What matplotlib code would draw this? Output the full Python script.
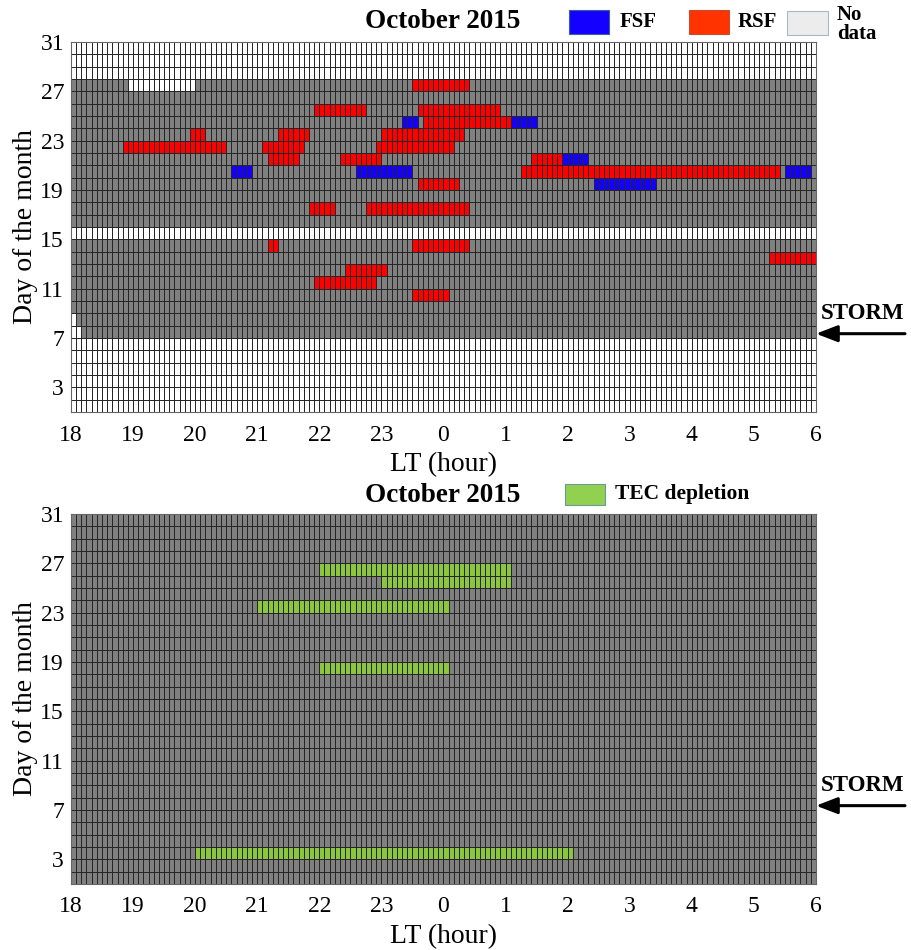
import matplotlib
matplotlib.use("Agg")
import matplotlib.pyplot as plt
import matplotlib.transforms as mtransforms
import numpy as np
from matplotlib.colors import ListedColormap, BoundaryNorm
from matplotlib.patches import Rectangle

plt.rcParams['font.family'] = ['Liberation Serif', 'DejaVu Serif']

# days of october 2015, rows are day d .. d+1
days = np.arange(1, 31)
hour_ticks = np.arange(0, 13)
hour_labels = ['18', '19', '20', '21', '22', '23', '0', '1', '2', '3', '4', '5', '6']

# ionosonde: whole nights without data
nodata_days = [1, 2, 3, 4, 5, 6, 15, 28, 29, 30]
# partial no data (day, start LT, end LT)
nodata_parts = [(27, '18:55', '20:00'), (8, '18:00', '18:05'), (7, '18:00', '18:10')]

# frequency spread F
fsf = [(24, '23:20', '23:35'), (24, '01:05', '01:30'),
       (21, '01:55', '02:20'),
       (20, '20:35', '20:55'), (20, '22:35', '23:30'), (20, '05:30', '05:55'),
       (19, '02:25', '03:25')]

# range spread F
rsf = [(27, '23:30', '00:25'),
       (25, '21:55', '22:45'), (25, '23:35', '00:55'),
       (24, '23:40', '01:05'),
       (23, '19:55', '20:10'), (23, '21:20', '21:50'), (23, '23:00', '00:20'),
       (22, '18:50', '20:30'), (22, '21:05', '21:45'), (22, '22:55', '00:10'),
       (21, '21:10', '21:40'), (21, '22:20', '23:00'), (21, '01:25', '01:55'),
       (20, '01:15', '05:25'),
       (19, '23:35', '00:15'),
       (17, '21:50', '22:15'), (17, '22:45', '00:25'),
       (14, '21:10', '21:20'), (14, '23:30', '00:25'),
       (13, '05:15', '06:00'),
       (12, '22:25', '23:05'),
       (11, '21:55', '22:55'),
       (10, '23:30', '00:05')]

# GNSS TEC depletions
tec = [(26, '22:00', '01:05'), (25, '23:00', '01:05'), (23, '21:00', '00:05'),
       (18, '22:00', '00:05'), (3, '20:00', '02:05')]

storm_day = 7.35


def col(t):
    h, m = t.split(':')
    mins = (int(h) - 18) % 24 * 60 + int(m)
    return mins // 5


def fill(grid, events, val):
    for d, t0, t1 in events:
        c1 = col(t1) if t1 != '06:00' else 144
        grid[d - 1, col(t0):c1] = val


# 0 gray, 1 blue, 2 red, 3 white, 4 green
grid1 = np.zeros((30, 144))
for d in nodata_days:
    grid1[d - 1, :] = 3
fill(grid1, nodata_parts, 3)
fill(grid1, rsf, 2)
fill(grid1, fsf, 1)

grid2 = np.zeros((30, 144))
fill(grid2, tec, 4)

cmap = ListedColormap(['#808080', '#1400ff', '#ff0000', '#ffffff', '#8cc63f'])
norm = BoundaryNorm([-0.5, 0.5, 1.5, 2.5, 3.5, 4.5], cmap.N)

xe = np.linspace(0, 12, 145)
ye = np.arange(1, 32)

fig = plt.figure(figsize=(9.11, 9.5), dpi=100)
ax1 = fig.add_axes([0.0779, 0.5663, 0.8178, 0.3895])
ax2 = fig.add_axes([0.0779, 0.0695, 0.8178, 0.3895])

for ax, g in [(ax1, grid1), (ax2, grid2)]:
    ax.pcolormesh(xe, ye, g, cmap=cmap, norm=norm, edgecolors='#262626', linewidth=0.45)
    ax.set_xlim(0, 12)
    ax.set_ylim(1, 31)
    ax.set_xticks(hour_ticks)
    ax.set_xticklabels(hour_labels)
    ax.set_yticks([3, 7, 11, 15, 19, 23, 27, 31])
    ax.tick_params(length=0, labelsize=17)
    ax.tick_params(axis='x', pad=9)
    ax.tick_params(axis='y', pad=5)
    ax.set_xlabel('LT (hour)', fontsize=20, labelpad=5)
    ax.set_ylabel('Day of the month', fontsize=20, labelpad=2)
    for s in ax.spines.values():
        s.set_color('#666666')
        s.set_linewidth(0.8)

# titles and legends
fig.text(0.4863, 0.977, 'October 2015', ha='center', va='center', fontsize=19.5, fontweight='bold')
fig.add_artist(Rectangle((0.6246, 0.9642), 0.0439, 0.0253, transform=fig.transFigure,
                         facecolor='#1400ff', edgecolor='#3a5fa0', lw=0.8))
fig.text(0.6806, 0.9768, 'FSF', ha='left', va='center', fontsize=15, fontweight='bold')
fig.add_artist(Rectangle((0.7563, 0.9642), 0.0439, 0.0253, transform=fig.transFigure,
                         facecolor='#ff3300', edgecolor='#c05030', lw=0.8))
fig.text(0.8101, 0.9768, 'RSF', ha='left', va='center', fontsize=15, fontweight='bold')
fig.add_artist(Rectangle((0.864, 0.9632), 0.045, 0.0253, transform=fig.transFigure,
                         facecolor='#ececec', edgecolor='#a8b8cc', lw=0.8))
fig.text(0.9188, 0.974, 'No\ndata', ha='left', va='center', fontsize=15, fontweight='bold',
         linespacing=0.95)

fig.text(0.4863, 0.478, 'October 2015', ha='center', va='center', fontsize=19.5, fontweight='bold')
fig.add_artist(Rectangle((0.620, 0.4684), 0.0439, 0.0221, transform=fig.transFigure,
                         facecolor='#92d050', edgecolor='#6a9a9a', lw=0.8))
fig.text(0.675, 0.48, 'TEC depletion', ha='left', va='center', fontsize=15.5, fontweight='bold')

# storm arrows
for ax in (ax1, ax2):
    tr = mtransforms.blended_transform_factory(fig.transFigure, ax.transData)
    ax.annotate('', xy=(12, storm_day), xycoords='data',
                xytext=(0.9934, storm_day), textcoords=tr,
                arrowprops=dict(arrowstyle='-|>,head_length=1.3,head_width=0.5',
                                color='k', lw=2.2, shrinkA=0, shrinkB=0),
                annotation_clip=False)
    ax.text(0.9465, storm_day + 1.6, 'STORM', transform=tr,
            ha='center', va='center', fontsize=16.5, fontweight='bold')

fig.savefig('out.png', dpi=100)
